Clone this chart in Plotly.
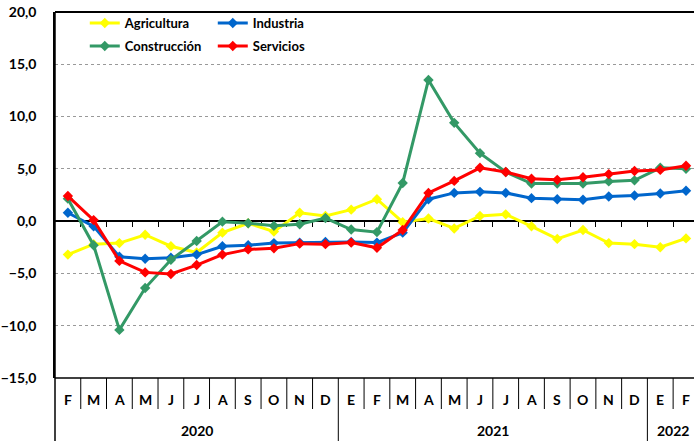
import plotly.graph_objects as go

months = ["F", "M", "A", "M", "J", "J", "A", "S", "O", "N", "D",
          "E", "F", "M", "A", "M", "J", "J", "A", "S", "O", "N", "D",
          "E", "F"]
years = ["2020", "2021", "2022"]
year_counts = [11, 12, 2]

agricultura = [-3.2, -2.2, -2.1, -1.3, -2.4, -3.0, -1.1, -0.2, -1.0, 0.8, 0.5,
               1.1, 2.1, -0.1, 0.25, -0.7, 0.5, 0.65, -0.5, -1.7, -0.85, -2.1, -2.2,
               -2.5, -1.65]
industria = [0.8, -0.5, -3.4, -3.6, -3.5, -3.2, -2.4, -2.3, -2.1, -2.05, -2.0,
             -2.0, -2.05, -1.1, 2.1, 2.7, 2.8, 2.7, 2.2, 2.1, 2.05, 2.35, 2.45,
             2.65, 2.9]
construccion = [2.15, -2.3, -10.4, -6.4, -3.7, -1.9, -0.05, -0.2, -0.45, -0.3, 0.3,
                -0.8, -1.05, 3.65, 13.5, 9.4, 6.5, 4.7, 3.6, 3.6, 3.6, 3.8, 3.9,
                5.1, 5.0]
servicios = [2.4, 0.1, -3.8, -4.9, -5.05, -4.2, -3.2, -2.7, -2.6, -2.15, -2.2,
             -2.05, -2.55, -0.85, 2.7, 3.85, 5.1, 4.7, 4.05, 3.95, 4.2, 4.5, 4.8,
             4.9, 5.3]

series = [
    ("Agricultura", agricultura, "#FFFF00", "legend"),
    ("Industria", industria, "#0066CC", "legend"),
    ("Construcción", construccion, "#339966", "legend2"),
    ("Servicios", servicios, "#FF0000", "legend2"),
]

W, H = 694, 441
ML, MT, MB = 55, 12, 63
PH = H - MT - MB
FONT = "Lato"

x = list(range(len(months)))
fig = go.Figure()
for name, vals, color, lg in series:
    fig.add_trace(go.Scatter(
        x=x, y=vals, name=name, mode="lines+markers",
        line=dict(color=color, width=3),
        marker=dict(symbol="diamond", size=8, color=color),
        legend=lg,
    ))

shapes = []
shapes.append(dict(type="line", xref="paper", yref="paper", x0=0, x1=1, y0=1, y1=1,
                   line=dict(color="black", width=2)))
shapes.append(dict(type="line", xref="paper", yref="paper", x0=0, x1=1, y0=0, y1=0,
                   line=dict(color="black", width=1.5)))
shapes.append(dict(type="line", xref="paper", yref="paper", x0=0, x1=0, y0=1, y1=-MB / PH,
                   line=dict(color="black", width=1.5)))
year_bounds = []
acc = 0
for c in year_counts:
    acc += c
    year_bounds.append(acc - 0.5)
for i in range(len(months)):
    b = i + 0.5
    low = -MB / PH if b in year_bounds else -31 / PH
    shapes.append(dict(type="line", xref="x", yref="paper", x0=b, x1=b, y0=0, y1=low,
                       line=dict(color="black", width=1)))

annotations = []
for i, m in enumerate(months):
    annotations.append(dict(x=i, y=-21 / PH, xref="x", yref="paper", text=m,
                            showarrow=False, font=dict(family=FONT, size=14, color="black",
                                                       weight="bold"),
                            xanchor="center", yanchor="middle"))
start = -0.5
for yname, c in zip(years, year_counts):
    end = start + c
    annotations.append(dict(x=(start + end) / 2, y=-52 / PH, xref="x", yref="paper",
                            text=yname, showarrow=False,
                            font=dict(family=FONT, size=14, color="black", weight="bold"),
                            xanchor="center", yanchor="middle"))
    start = end

legend_common = dict(orientation="h", xanchor="left", yanchor="middle",
                     bgcolor="rgba(0,0,0,0)", entrywidth=83,
                     font=dict(family=FONT, size=13, color="black", weight="bold"),
                     itemwidth=30, tracegroupgap=0)

fig.update_layout(
    width=W, height=H,
    margin=dict(l=ML, r=0, t=MT, b=MB, autoexpand=False),
    paper_bgcolor="white", plot_bgcolor="white",
    separators=",.",
    showlegend=True,
    font=dict(family=FONT, color="black"),
    xaxis=dict(
        range=[-0.5, 24.31], showgrid=False, zeroline=False,
        anchor="free", position=15 / 35,
        showline=True, linecolor="black", linewidth=1.5,
        tickmode="array", tickvals=[i + 0.5 for i in range(len(months) - 1)],
        ticks="outside", ticklen=5, tickcolor="black", tickwidth=1,
        showticklabels=False, layer="below traces",
    ),
    yaxis=dict(
        range=[-15, 20], dtick=5, tickformat=".1f",
        showgrid=True, gridcolor="#999999", griddash="dot", gridwidth=1,
        zeroline=False, showline=True, linecolor="black", linewidth=1.5,
        ticks="", ticklabelstandoff=14,
        tickfont=dict(family=FONT, size=14, color="black", weight="bold"),
        layer="below traces",
    ),
    legend=dict(x=0.0466, y=(H - MB - 23) / PH, **legend_common),
    legend2=dict(x=0.0466, y=(H - MB - 46) / PH, **legend_common),
    shapes=shapes,
    annotations=annotations,
)

fig.write_html("out.html", config={"displayModeBar": False},
               post_script="document.body.style.margin='0';")
